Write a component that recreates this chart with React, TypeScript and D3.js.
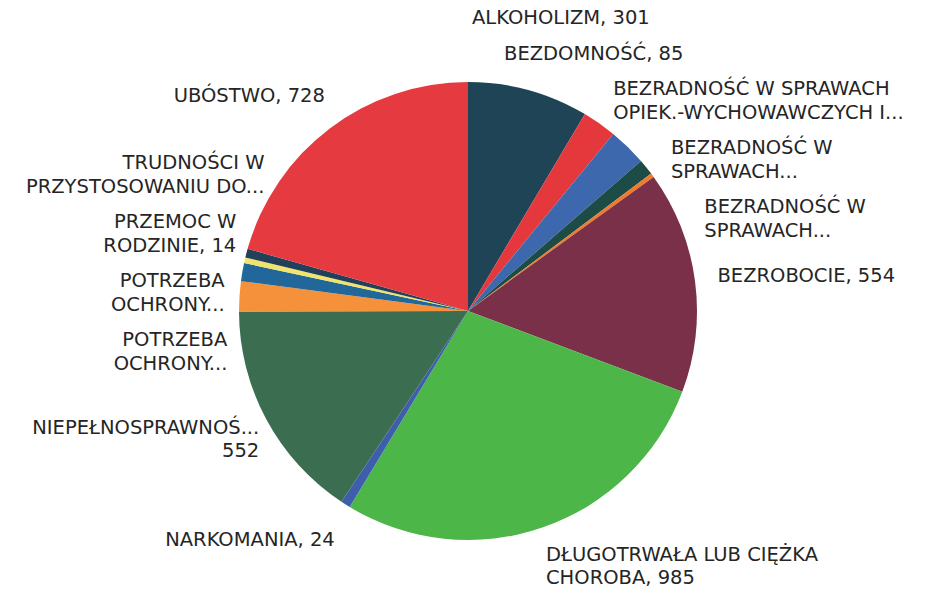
import React from "react";
import * as d3 from "d3";

// category names (as in the source sheet) and counts
const categories = [
  "ALKOHOLIZM",
  "BEZDOMNOŚĆ",
  "BEZRADNOŚĆ W SPRAWACH OPIEK.-WYCHOWAWCZYCH I PROWADZENIA GOSPODARSTWA DOMOWEGO",
  "BEZRADNOŚĆ W SPRAWACH OPIEK.-WYCHOWAWCZYCH - RODZINY NIEPEŁNE",
  "BEZRADNOŚĆ W SPRAWACH OPIEK.-WYCHOWAWCZYCH - RODZINY WIELODZIETNE",
  "BEZROBOCIE",
  "DŁUGOTRWAŁA LUB CIĘŻKA CHOROBA",
  "NARKOMANIA",
  "NIEPEŁNOSPRAWNOŚĆ",
  "POTRZEBA OCHRONY MACIERZYŃSTWA",
  "POTRZEBA OCHRONY OFIAR HANDLU LUDŹMI",
  "PRZEMOC W RODZINIE",
  "TRUDNOŚCI W PRZYSTOSOWANIU DO ŻYCIA PO ZWOLNIENIU Z ZAKŁADU KARNEGO",
  "UBÓSTWO",
];
const values = [301, 85, 95, 40, 10, 554, 985, 24, 552, 75, 45, 14, 22, 728];

// label text as it is wrapped/truncated on the chart ({v} = value)
const labelLines = [
  ["ALKOHOLIZM, {v}"],
  ["BEZDOMNOŚĆ, {v}"],
  ["BEZRADNOŚĆ W SPRAWACH", "OPIEK.-WYCHOWAWCZYCH I..."],
  ["BEZRADNOŚĆ W", "SPRAWACH..."],
  ["BEZRADNOŚĆ W", "SPRAWACH..."],
  ["BEZROBOCIE, {v}"],
  ["DŁUGOTRWAŁA LUB CIĘŻKA", "CHOROBA, {v}"],
  ["NARKOMANIA, {v}"],
  ["NIEPEŁNOSPRAWNOŚ...", "{v}"],
  ["POTRZEBA", "OCHRONY..."],
  ["POTRZEBA", "OCHRONY..."],
  ["PRZEMOC W", "RODZINIE, {v}"],
  ["TRUDNOŚCI W", "PRZYSTOSOWANIU DO..."],
  ["UBÓSTWO, {v}"],
];

const colors = [
  "#1e4456", "#e4383d", "#3e68ad", "#1d4c46", "#f27a2c", "#7a3048", "#4cb649",
  "#3e5eac", "#3b6e51", "#f5913a", "#22679a", "#f0e46c", "#23405a", "#e53a3f",
];

// small horizontal corrections (outwards +) for labels near the top/bottom
const labelNudge = [0, 32, 6, 0, 0, -2, 74, 37, 0, 0, 0, 0, 0, 22];

const W = 930;
const H = 589;
const cx = 468;
const cy = 311;
const radius = 229;
const LH = 23.5;
const GAP = 12;

type Lab = { i: number; side: number; h: number; want: number; y: number; x: number };

function relax(items: Lab[]) {
  const sorted = [...items].sort((a, b) => a.want - b.want);
  const blocks: { items: Lab[]; top: number; bottom: number }[] = [];
  const layout = (b: { items: Lab[]; top: number; bottom: number }) => {
    let off = 0;
    const offs: number[] = [];
    b.items.forEach((it) => {
      offs.push(off + it.h / 2);
      off += it.h + GAP;
    });
    const shift = d3.mean(b.items, (it, k) => it.want - offs[k]) as number;
    b.items.forEach((it, k) => (it.y = shift + offs[k]));
    b.top = shift;
    b.bottom = shift + off - GAP;
  };
  for (const it of sorted) {
    blocks.push({ items: [it], top: 0, bottom: 0 });
    layout(blocks[blocks.length - 1]);
    while (blocks.length > 1) {
      const b = blocks[blocks.length - 1];
      const prev = blocks[blocks.length - 2];
      if (prev.bottom + GAP > b.top) {
        prev.items.push(...b.items);
        blocks.pop();
        layout(prev);
      } else break;
    }
  }
}

export default function App() {
  const pie = d3.pie<number>().sort(null).value((d) => d);
  const arcs = pie(values);
  const arc = d3.arc<d3.PieArcDatum<number>>().innerRadius(0).outerRadius(radius);

  const labs: Lab[] = arcs.map((a, i) => {
    const mid = (a.startAngle + a.endAngle) / 2;
    return {
      i,
      side: Math.sin(mid) >= 0 ? 1 : -1,
      h: labelLines[i].length * LH,
      want: cy - 270 * Math.cos(mid),
      y: 0,
      x: 0,
    };
  });
  relax(labs.filter((l) => l.side > 0));
  relax(labs.filter((l) => l.side < 0));
  labs.forEach((l) => {
    const dy = l.y - cy;
    const dx = Math.sqrt(Math.max(0, 250 * 250 - dy * dy));
    const pad = l.side > 0 ? 4 : -6;
    l.x = cx + l.side * (dx + pad + labelNudge[l.i]);
  });

  return (
    <svg
      width={W}
      height={H}
      style={{ position: "absolute", left: 0, top: 0, background: "#fff" }}
      fontFamily="'DejaVu Sans', 'Open Sans', sans-serif"
    >
      <g transform={`translate(${cx},${cy})`}>
        {arcs.map((a, i) => (
          <path key={categories[i]} d={arc(a) as string} fill={colors[i]} />
        ))}
      </g>
      {labs.map((l) => (
        <text
          key={"l" + l.i}
          x={l.x}
          textAnchor={l.side > 0 ? "start" : "end"}
          fontSize={19.5}
          fill="#252525"
        >
          {labelLines[l.i].map((ln, k) => (
            <tspan
              key={k}
              x={l.x}
              y={l.y - l.h / 2 + LH * (k + 0.5)}
              dominantBaseline="central"
            >
              {ln.replace("{v}", String(values[l.i]))}
            </tspan>
          ))}
        </text>
      ))}
    </svg>
  );
}
